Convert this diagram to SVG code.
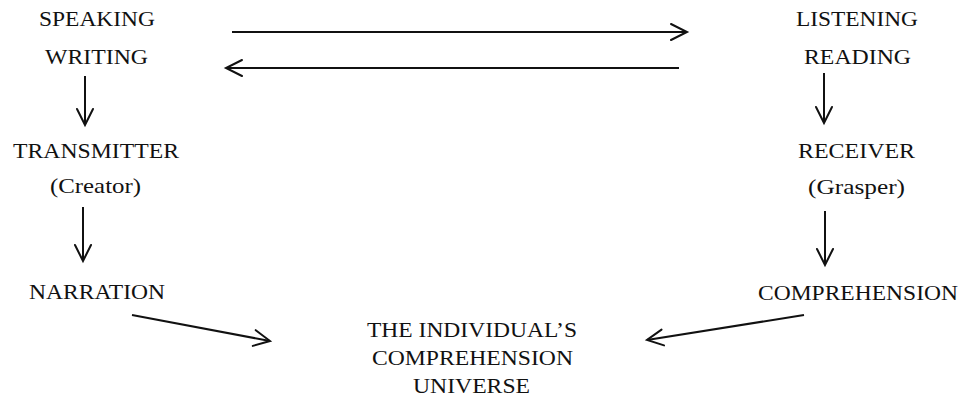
<svg xmlns="http://www.w3.org/2000/svg" width="961" height="398" viewBox="0 0 961 398">
<style>
text{font-family:"Liberation Serif","Times New Roman",serif;font-size:21.5px;fill:#111;text-anchor:middle}
.c{stroke:#111;stroke-width:2;fill:none;marker-end:url(#ah)}
</style>
<defs>
<marker id="ah" markerUnits="userSpaceOnUse" markerWidth="24" markerHeight="24" viewBox="-20 -12 24 24" refX="0" refY="0" orient="auto">
<path d="M-16,-8 L0,0 L-16,8" fill="none" stroke="#111" stroke-width="2" stroke-linecap="round" stroke-linejoin="miter"/>
</marker>
</defs>
<rect width="961" height="398" fill="#fff"/>
<g id="n-speaking"><text x="97" y="26" textLength="116" lengthAdjust="spacingAndGlyphs">SPEAKING</text><text x="96.5" y="64" textLength="103" lengthAdjust="spacingAndGlyphs">WRITING</text></g>
<g id="n-listening"><text x="857" y="26" textLength="122" lengthAdjust="spacingAndGlyphs">LISTENING</text><text x="857.5" y="64" textLength="107" lengthAdjust="spacingAndGlyphs">READING</text></g>
<g id="n-transmitter"><text x="96" y="158" textLength="166" lengthAdjust="spacingAndGlyphs">TRANSMITTER</text><text x="95.5" y="193" textLength="91" lengthAdjust="spacingAndGlyphs">(Creator)</text></g>
<g id="n-receiver"><text x="856.5" y="158" textLength="117" lengthAdjust="spacingAndGlyphs">RECEIVER</text><text x="856.5" y="194" textLength="97" lengthAdjust="spacingAndGlyphs">(Grasper)</text></g>
<g id="n-narration"><text x="97" y="299" textLength="136" lengthAdjust="spacingAndGlyphs">NARRATION</text></g>
<g id="n-comprehension"><text x="858" y="300" textLength="200" lengthAdjust="spacingAndGlyphs">COMPREHENSION</text></g>
<g id="n-universe"><text x="472" y="337" textLength="210" lengthAdjust="spacingAndGlyphs">THE INDIVIDUAL’S</text><text x="472.5" y="365" textLength="201" lengthAdjust="spacingAndGlyphs">COMPREHENSION</text><text x="471.5" y="393" textLength="117" lengthAdjust="spacingAndGlyphs">UNIVERSE</text></g>
<g id="connectors">
<line class="c" x1="232" y1="32" x2="687" y2="32"/>
<line class="c" x1="679" y1="68" x2="226" y2="68"/>
<line class="c" x1="85" y1="76" x2="85" y2="125"/>
<line class="c" x1="824" y1="73" x2="824" y2="123"/>
<line class="c" x1="83" y1="207" x2="83" y2="261"/>
<line class="c" x1="825" y1="211" x2="825" y2="265"/>
<line class="c" x1="132" y1="315" x2="270" y2="341"/>
<line class="c" x1="804" y1="315" x2="647" y2="340"/>
</g>
</svg>
